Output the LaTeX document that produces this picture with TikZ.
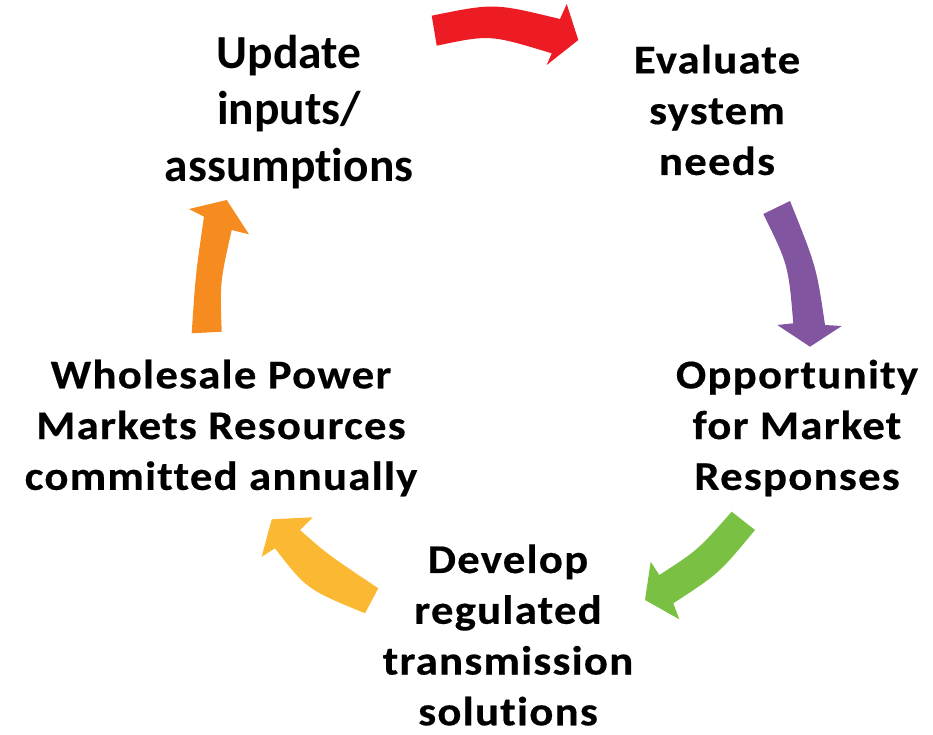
\documentclass[tikz,border=0pt]{standalone}
\usepackage{fontspec}
\setmainfont{Carlito}[Ligatures=NoCommon]
\newfontfamily\widefont{Carlito}[Ligatures=NoCommon,LetterSpace=3,FakeStretch=1.1,FakeBold=0.4]
\definecolor{cred}{HTML}{ED1C24}
\definecolor{cpurple}{HTML}{8155A0}
\definecolor{cgreen}{HTML}{7AC143}
\definecolor{cyellow}{HTML}{FBB933}
\definecolor{corange}{HTML}{F68B1F}
\begin{document}
\begin{tikzpicture}[x=0.02cm,y=-0.02cm,
  lbl/.style={align=center,inner sep=0pt,font=\widefont\fontsize{23.2}{28.9}\selectfont\bfseries},
  lblbig/.style={align=center,inner sep=0pt,font=\fontsize{27}{32.3}\selectfont\bfseries}]
\useasboundingbox (0,0) rectangle (933,734);
% labels
\node[lblbig] (upd) at (289,112) {Update\\inputs/\\assumptions};
\node[lbl] (eval) at (717,110) {Evaluate\\system\\needs};
\node[lbl] (opp) at (797,428) {Opportunity\\for Market\\Responses};
\node[lbl] (dev) at (508,635) {Develop\\regulated\\transmission\\solutions};
\node[lbl] (whs) at (221,428) {Wholesale Power\\Markets Resources\\committed annually};
% arrows
\fill[cred] (431.7,15.7) .. controls (494,3) .. (560,19) -- (566.7,4) -- (578.3,40)
  -- (546.7,65) -- (551.7,53.3) .. controls (489.8,34.5) .. (436.7,45.7) -- cycle;
\fill[cpurple] (790,201) .. controls (816.5,267) .. (825,325) -- (841.7,326) -- (810,346.7)
  -- (777.3,325) -- (793.3,323.3) .. controls (788.3,264.7) .. (763.3,214) -- cycle;
\fill[cgreen] (755,530) .. controls (719.2,573.3) .. (673.3,603.3) -- (679.3,619.3) -- (645,600)
  -- (650.7,561.7) -- (659.3,575) .. controls (697.9,550) .. (731.7,511.7) -- cycle;
\fill[cyellow] (365,613.3) .. controls (306.6,589.2) .. (275,548.3) -- (261.7,556.7) -- (271.7,519.3)
  -- (312.7,517.3) -- (300,530) .. controls (327.4,554.2) .. (378.3,588.3) -- cycle;
\fill[corange] (221.7,331.7) .. controls (219.9,282.5) .. (231.7,230) -- (249,234.3) -- (226.7,200)
  -- (189,209) -- (204,216.7) .. controls (195.5,275) .. (191.7,333.3) -- cycle;
\end{tikzpicture}
\end{document}
